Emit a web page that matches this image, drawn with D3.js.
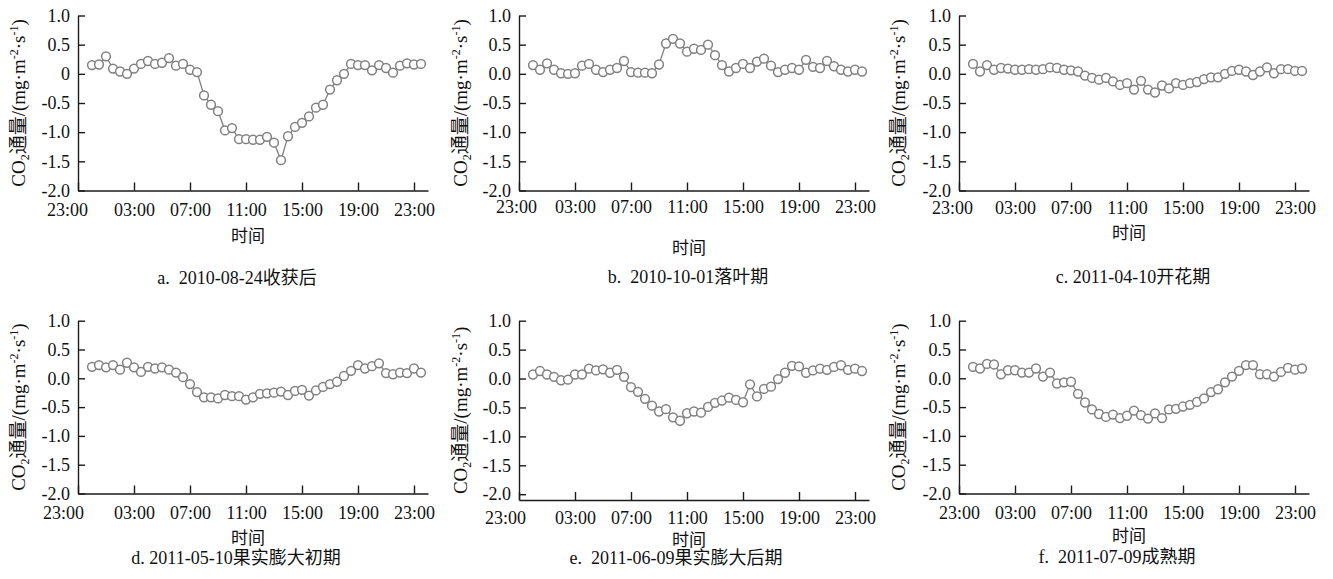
<!DOCTYPE html>
<html>
<head>
<meta charset="utf-8">
<script src="https://cdn.jsdelivr.net/npm/d3@7"></script>
<style>
  body { margin: 0; background: #fff; }
  svg { display: block; }
  text { font-family: "Liberation Serif", "Times New Roman", "DejaVu Serif", "Noto Sans CJK SC", serif; fill: #111; }
  .axis path, .axis line { stroke: #1a1a1a; stroke-width: 1.4px; }
  .axis text { font-size: 18px; font-family: "Liberation Serif", "Times New Roman", "DejaVu Serif", serif; fill: #111; }
</style>
</head>
<body>
<div id="chart"></div>
<script>
// half-hour sampling times
const times = ["00:00","00:30","01:00","01:30","02:00","02:30","03:00","03:30",
  "04:00","04:30","05:00","05:30","06:00","06:30","07:00","07:30",
  "08:00","08:30","09:00","09:30","10:00","10:30","11:00","11:30",
  "12:00","12:30","13:00","13:30","14:00","14:30","15:00","15:30",
  "16:00","16:30","17:00","17:30","18:00","18:30","19:00","19:30",
  "20:00","20:30","21:00","21:30","22:00","22:30","23:00","23:30"];

// CO2 flux, mg·m-2·s-1
const fluxA = [0.15,0.16,0.30,0.09,0.04,0.00,0.09,0.17,0.22,0.17,0.19,0.27,
  0.14,0.17,0.07,0.03,-0.37,-0.53,-0.64,-0.97,-0.93,-1.12,-1.12,-1.13,
  -1.13,-1.08,-1.18,-1.48,-1.07,-0.91,-0.84,-0.73,-0.58,-0.53,-0.27,-0.11,
  0.00,0.17,0.15,0.15,0.06,0.15,0.10,0.02,0.14,0.18,0.16,0.17];
const fluxB = [0.15,0.07,0.18,0.07,0.01,0.00,0.01,0.14,0.17,0.07,0.03,0.07,
  0.10,0.22,0.03,0.02,0.02,0.01,0.16,0.52,0.60,0.52,0.38,0.43,
  0.41,0.50,0.32,0.15,0.04,0.10,0.17,0.10,0.21,0.26,0.14,0.03,
  0.07,0.10,0.07,0.24,0.12,0.10,0.22,0.13,0.07,0.04,0.07,0.04];
const fluxC = [0.17,0.04,0.15,0.07,0.10,0.09,0.07,0.07,0.08,0.07,0.08,0.11,
  0.10,0.07,0.06,0.04,-0.03,-0.07,-0.10,-0.07,-0.13,-0.19,-0.16,-0.27,
  -0.12,-0.27,-0.32,-0.20,-0.25,-0.16,-0.19,-0.16,-0.14,-0.09,-0.06,-0.06,
  0.00,0.05,0.07,0.04,-0.02,0.04,0.11,0.01,0.08,0.08,0.05,0.05];
const fluxD = [0.20,0.23,0.19,0.23,0.15,0.27,0.19,0.11,0.20,0.17,0.19,0.15,
  0.10,0.02,-0.10,-0.24,-0.33,-0.33,-0.35,-0.29,-0.31,-0.31,-0.37,-0.33,
  -0.27,-0.26,-0.25,-0.23,-0.29,-0.22,-0.20,-0.30,-0.21,-0.15,-0.10,-0.06,
  0.04,0.13,0.23,0.17,0.21,0.26,0.09,0.07,0.10,0.09,0.17,0.10];
const fluxE = [0.07,0.13,0.07,0.03,-0.03,-0.02,0.07,0.07,0.17,0.14,0.16,0.10,
  0.15,0.03,-0.15,-0.23,-0.35,-0.47,-0.57,-0.53,-0.67,-0.73,-0.60,-0.57,
  -0.59,-0.49,-0.42,-0.38,-0.33,-0.37,-0.41,-0.10,-0.31,-0.18,-0.14,-0.01,
  0.10,0.22,0.21,0.10,0.14,0.17,0.15,0.20,0.23,0.15,0.17,0.13];
const fluxF = [0.20,0.17,0.25,0.24,0.07,0.14,0.14,0.10,0.10,0.17,0.03,0.10,
  -0.09,-0.07,-0.06,-0.27,-0.42,-0.54,-0.62,-0.67,-0.63,-0.69,-0.65,-0.56,
  -0.64,-0.70,-0.61,-0.69,-0.54,-0.53,-0.49,-0.46,-0.41,-0.35,-0.24,-0.19,
  -0.07,0.03,0.13,0.23,0.23,0.07,0.07,0.03,0.11,0.18,0.15,0.17];

const xTickHours = [0, 4, 8, 12, 16, 20, 24];
const xTickLabels = ["23:00","03:00","07:00","11:00","15:00","19:00","23:00"];
const yTickValues = [1.0, 0.5, 0, -0.5, -1.0, -1.5, -2.0];
const yTickLabelsA = ["1.0","0.5","0","-0.5","-1.0","-1.5","-2.0"];
const yTickLabels = ["1.0","0.5","0.0","-0.5","-1.0","-1.5","-2.0"];

const captions = ["a.\u00a0\u00a02010-08-24收获后", "b.\u00a0\u00a02010-10-01落叶期",
  "c. 2011-04-10开花期", "d. 2011-05-10果实膨大初期",
  "e.\u00a0\u00a02011-06-09果实膨大后期", "f.\u00a0\u00a02011-07-09成熟期"];
const xTitle = "时间";

// layout of each panel (pixels)
const panels = [
  {flux: fluxA, yLabels: yTickLabelsA, left: 78,  top: 15.5,  bottom: 190.5, yMin: -2.0, pad: 13, firstShift: -11, titleX: 18,  xTitleY: 242, capX: 237,  capY: 284},
  {flux: fluxB, yLabels: yTickLabels,  left: 519, top: 15.5,  bottom: 190.5, yMin: -2.0, pad: 10, firstShift: -3,  titleX: 460, xTitleY: 254, capX: 688,  capY: 283},
  {flux: fluxC, yLabels: yTickLabels,  left: 959, top: 15.5,  bottom: 190.5, yMin: -2.0, pad: 11, firstShift: -7,  titleX: 898, xTitleY: 239, capX: 1133, capY: 283},
  {flux: fluxD, yLabels: yTickLabels,  left: 78,  top: 320.7, bottom: 493.5, yMin: -2.0, pad: 13, firstShift: -15, titleX: 18,  xTitleY: 544, capX: 236,  capY: 564},
  {flux: fluxE, yLabels: yTickLabels,  left: 519, top: 320.7, bottom: 500,   yMin: -2.1, pad: 11, firstShift: -14, titleX: 460, xTitleY: 546, capX: 676,  capY: 564},
  {flux: fluxF, yLabels: yTickLabels,  left: 959, top: 320.7, bottom: 493.5, yMin: -2.0, pad: 13, firstShift: 0,   titleX: 898, xTitleY: 542, capX: 1117, capY: 563}
];

const plotWidth = 350;
const grey = "#808080";

const svg = d3.select("#chart").append("svg")
    .attr("width", 1333)
    .attr("height", 579);

// hours elapsed since 23:00 of the previous day
function hourOf(t) {
    let parts = t.split(":");
    return +parts[0] + +parts[1] / 60 + 1;
}

panels.forEach((p, idx) => {
    let xScale = d3.scaleLinear().domain([0, 25]).range([p.left, p.left + plotWidth]);
    let yScale = d3.scaleLinear().domain([p.yMin, 1.0]).range([p.bottom, p.top]);

    let g = svg.append("g").attr("id", "panel" + idx);

    // y axis, ticks pointing inside
    let yAxis = d3.axisLeft(yScale)
        .tickValues(yTickValues)
        .tickFormat((d, i) => p.yLabels[i])
        .tickSizeInner(-7)
        .tickSizeOuter(0)
        .tickPadding(8);
    g.append("g")
        .attr("class", "axis")
        .attr("transform", "translate(" + p.left + ",0)")
        .call(yAxis);

    // x axis
    let xAxis = d3.axisBottom(xScale)
        .tickValues(xTickHours)
        .tickFormat((d, i) => xTickLabels[i])
        .tickSizeInner(-8)
        .tickSizeOuter(0)
        .tickPadding(p.pad);
    let xAx = g.append("g")
        .attr("class", "axis")
        .attr("transform", "translate(0," + p.bottom + ")")
        .call(xAxis);
    xAx.selectAll(".tick text")
        .attr("dx", (d, i) => i === 0 ? p.firstShift : 0);

    // line
    let line = d3.line()
        .x((d, i) => xScale(hourOf(times[i])))
        .y(d => yScale(d));
    g.append("path")
        .datum(p.flux)
        .attr("d", line)
        .attr("fill", "none")
        .attr("stroke", grey)
        .attr("stroke-width", 1.3);

    g.selectAll(".pt")
        .data(p.flux)
        .enter().append("circle")
        .attr("class", "pt")
        .attr("cx", (d, i) => xScale(hourOf(times[i])))
        .attr("cy", d => yScale(d))
        .attr("r", 4.4)
        .attr("fill", "#fff")
        .attr("stroke", grey)
        .attr("stroke-width", 1.5);

    // y axis title
    let midY = (p.top + p.bottom) / 2;
    let yTitle = g.append("text")
        .attr("transform", "translate(" + p.titleX + "," + midY + ") rotate(-90)")
        .attr("text-anchor", "middle")
        .attr("dy", "0.35em")
        .style("font-size", "19px");
    yTitle.append("tspan").text("CO");
    yTitle.append("tspan").text("2").style("font-size", "12px").attr("dy", "4");
    yTitle.append("tspan").text("通量/(mg·m").attr("dy", "-4");
    yTitle.append("tspan").text("-2").style("font-size", "12px").attr("dy", "-7");
    yTitle.append("tspan").text("·s").attr("dy", "7");
    yTitle.append("tspan").text("-1").style("font-size", "12px").attr("dy", "-7");
    yTitle.append("tspan").text(")").attr("dy", "7");

    // x axis title
    g.append("text")
        .attr("x", (p.left + p.left + plotWidth) / 2 - 5)
        .attr("y", p.xTitleY)
        .attr("text-anchor", "middle")
        .style("font-size", "17px")
        .text(xTitle);

    // caption
    g.append("text")
        .attr("x", p.capX)
        .attr("y", p.capY)
        .attr("text-anchor", "middle")
        .style("font-size", "18px")
        .style("white-space", "pre")
        .text(captions[idx]);
});
</script>
</body>
</html>
